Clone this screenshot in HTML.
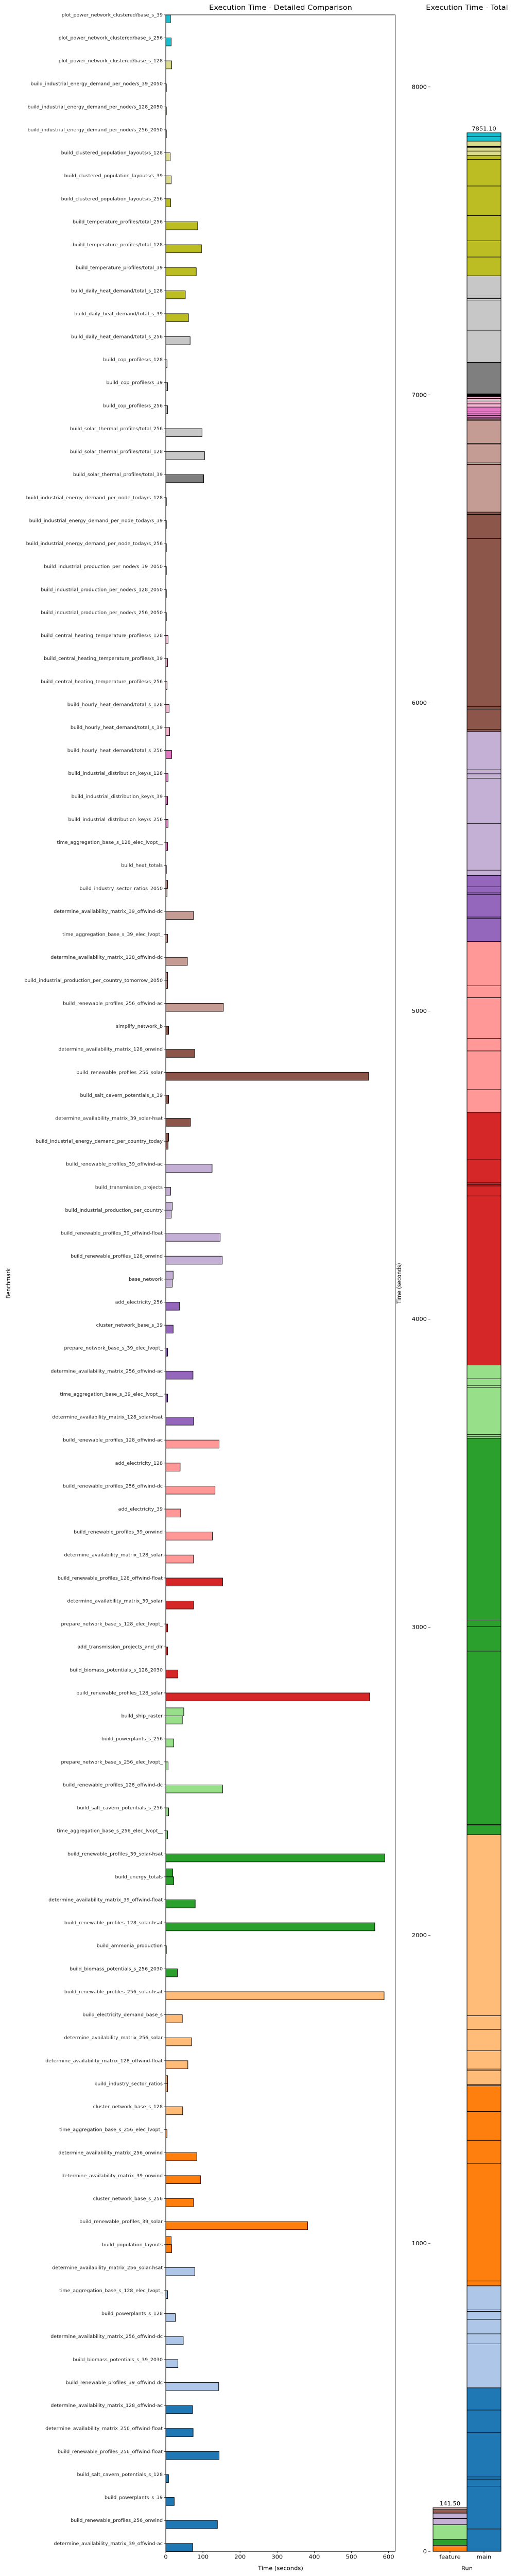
<!DOCTYPE html>
<html><head><meta charset="utf-8"><style>
html,body{margin:0;padding:0;background:#fff;width:100%;height:100%;overflow:hidden;}
svg{display:block;position:fixed;left:0;top:0;width:100vw;height:100vh;font-family:"DejaVu Sans","Liberation Sans",sans-serif;}
</style></head><body>
<svg id="chart" viewBox="0 0 1008 5540" preserveAspectRatio="none" xmlns="http://www.w3.org/2000/svg">
<text x="545" y="21" font-size="14.5" text-anchor="middle">Execution Time - Detailed Comparison</text>
<text x="907" y="21" font-size="14.5" text-anchor="middle">Execution Time - Total</text>
<text x="0" y="0" font-size="11.5" text-anchor="middle" transform="translate(20,2760) rotate(-90)">Benchmark</text>
<text x="545" y="5527" font-size="11.5" text-anchor="middle">Time (seconds)</text>
<text x="0" y="0" font-size="11.5" text-anchor="middle" transform="translate(779,2760) rotate(-90)">Time (seconds)</text>
<text x="907" y="5527" font-size="11.5" text-anchor="middle">Run</text>
<g id="left"></g>
<g id="right"></g>
</svg>
<script>
const labels = ["plot_power_network_clustered/base_s_39","plot_power_network_clustered/base_s_256","plot_power_network_clustered/base_s_128","build_industrial_energy_demand_per_node/s_39_2050","build_industrial_energy_demand_per_node/s_128_2050","build_industrial_energy_demand_per_node/s_256_2050","build_clustered_population_layouts/s_128","build_clustered_population_layouts/s_39","build_clustered_population_layouts/s_256","build_temperature_profiles/total_256","build_temperature_profiles/total_128","build_temperature_profiles/total_39","build_daily_heat_demand/total_s_128","build_daily_heat_demand/total_s_39","build_daily_heat_demand/total_s_256","build_cop_profiles/s_128","build_cop_profiles/s_39","build_cop_profiles/s_256","build_solar_thermal_profiles/total_256","build_solar_thermal_profiles/total_128","build_solar_thermal_profiles/total_39","build_industrial_energy_demand_per_node_today/s_128","build_industrial_energy_demand_per_node_today/s_39","build_industrial_energy_demand_per_node_today/s_256","build_industrial_production_per_node/s_39_2050","build_industrial_production_per_node/s_128_2050","build_industrial_production_per_node/s_256_2050","build_central_heating_temperature_profiles/s_128","build_central_heating_temperature_profiles/s_39","build_central_heating_temperature_profiles/s_256","build_hourly_heat_demand/total_s_128","build_hourly_heat_demand/total_s_39","build_hourly_heat_demand/total_s_256","build_industrial_distribution_key/s_128","build_industrial_distribution_key/s_39","build_industrial_distribution_key/s_256","time_aggregation_base_s_128_elec_lvopt__","build_heat_totals","build_industry_sector_ratios_2050","determine_availability_matrix_39_offwind-dc","time_aggregation_base_s_39_elec_lvopt_","determine_availability_matrix_128_offwind-dc","build_industrial_production_per_country_tomorrow_2050","build_renewable_profiles_256_offwind-ac","simplify_network_b","determine_availability_matrix_128_onwind","build_renewable_profiles_256_solar","build_salt_cavern_potentials_s_39","determine_availability_matrix_39_solar-hsat","build_industrial_energy_demand_per_country_today","build_renewable_profiles_39_offwind-ac","build_transmission_projects","build_industrial_production_per_country","build_renewable_profiles_39_offwind-float","build_renewable_profiles_128_onwind","base_network","add_electricity_256","cluster_network_base_s_39","prepare_network_base_s_39_elec_lvopt_","determine_availability_matrix_256_offwind-ac","time_aggregation_base_s_39_elec_lvopt__","determine_availability_matrix_128_solar-hsat","build_renewable_profiles_128_offwind-ac","add_electricity_128","build_renewable_profiles_256_offwind-dc","add_electricity_39","build_renewable_profiles_39_onwind","determine_availability_matrix_128_solar","build_renewable_profiles_128_offwind-float","determine_availability_matrix_39_solar","prepare_network_base_s_128_elec_lvopt_","add_transmission_projects_and_dlr","build_biomass_potentials_s_128_2030","build_renewable_profiles_128_solar","build_ship_raster","build_powerplants_s_256","prepare_network_base_s_256_elec_lvopt_","build_renewable_profiles_128_offwind-dc","build_salt_cavern_potentials_s_256","time_aggregation_base_s_256_elec_lvopt__","build_renewable_profiles_39_solar-hsat","build_energy_totals","determine_availability_matrix_39_offwind-float","build_renewable_profiles_128_solar-hsat","build_ammonia_production","build_biomass_potentials_s_256_2030","build_renewable_profiles_256_solar-hsat","build_electricity_demand_base_s","determine_availability_matrix_256_solar","determine_availability_matrix_128_offwind-float","build_industry_sector_ratios","cluster_network_base_s_128","time_aggregation_base_s_256_elec_lvopt_","determine_availability_matrix_256_onwind","determine_availability_matrix_39_onwind","cluster_network_base_s_256","build_renewable_profiles_39_solar","build_population_layouts","determine_availability_matrix_256_solar-hsat","time_aggregation_base_s_128_elec_lvopt_","build_powerplants_s_128","determine_availability_matrix_256_offwind-dc","build_biomass_potentials_s_39_2030","build_renewable_profiles_39_offwind-dc","determine_availability_matrix_128_offwind-ac","determine_availability_matrix_256_offwind-float","build_renewable_profiles_256_offwind-float","build_salt_cavern_potentials_s_128","build_powerplants_s_39","build_renewable_profiles_256_onwind","determine_availability_matrix_39_offwind-ac"];
const mainValues = [12.5,14.5,15.8,1.5,1.5,1.5,11.9,14.5,12.9,86,96,82,52.5,61,65.5,3.5,5,5,97.6,104.5,102,1.5,1.5,1.5,1.5,1.5,1.5,6.2,5,3.5,8.9,10.4,15.8,6.2,5,6.2,5,1.5,3.5,74.7,5,58.1,5,155,7.6,78.2,546,7.6,66.3,6.2,124.7,12.9,14.5,146.5,152,17.3,36.6,19.8,5,73.3,5,74.7,143.5,38.6,132.6,40.2,125.7,74.7,153,74.7,5,5,32.7,549,44.5,21.5,6.2,153,7.6,5,590,21.5,79.2,563,1.5,31.2,588,44.5,69.3,59.4,5,45.5,3.5,83.7,93.4,74.7,382,15.8,78.2,5,25.7,47,32.7,142.5,72,73.6,143.6,7.3,22.7,139,72.7];
const featureValues = [0,0,0,0,0,0,0,0,0,0,0,0,0,0,0,0,0,0,0,0,0,0,0,0,0,0,0,0,0,0,0,0,0,0,0,0,0,0,5,0,0,0,5,0,0,0,0,0,0,7.6,0,0,17.3,0,0,19.8,0,0,0,0,0,0,0,0,0,0,0,0,0,0,0,0,0,0,48.5,0,0,0,0,0,0,18.8,0,0,0,0,0,0,0,0,5,0,0,0,0,0,0,14.5,0,0,0,0,0,0,0,0,0,0,0,0];
const xTicks = [0,100,200,300,400,500,600];
const yTicksTotal = [0,1000,2000,3000,4000,5000,6000,7000,8000];
const runs = ["feature","main"];

const tab20 = ["#1f77b4","#aec7e8","#ff7f0e","#ffbb78","#2ca02c","#98df8a","#d62728","#ff9896","#9467bd","#c5b0d5","#8c564b","#c49c94","#e377c2","#f7b6d2","#7f7f7f","#c7c7c7","#bcbd22","#dbdb8d","#17becf","#9edae5"];
const groupEnds = [2,8,14,20,27,32,38,44,50,56,62,68,74,80,86,92,98,104,111];
function colorFor(i){ let g=0; while(i>=groupEnds[g]) g++; return tab20[18-g]; }

const NS="http://www.w3.org/2000/svg";
function mk(tag, attrs, parent){ const e=document.createElementNS(NS,tag); for(const k in attrs) e.setAttribute(k,attrs[k]); parent.appendChild(e); return e; }

const L = {x0:322, x1:767.5, y0:32, y1:5487, pxPerUnit:0.721};
const rowGap = (5470-32)/(labels.length-1);
const barH = 17.3;
const xScale = v => L.x0 + v*L.pxPerUnit;
const yRow = i => L.y0 + i*rowGap;
const left = document.getElementById('left');

labels.forEach((lab,i)=>{
  const y=yRow(i);
  const c=colorFor(i);
  if(featureValues[i]>0){
    const fb=mk('rect',{x:xScale(0),y:y-barH,width:xScale(featureValues[i])-xScale(0),height:barH,fill:c,stroke:'#000','stroke-width':1},left);
    
    
  }
  const mb=mk('rect',{x:xScale(0),y:y,width:Math.max(0.8,xScale(mainValues[i])-xScale(0)),height:barH,fill:c,stroke:'#000','stroke-width':1},left);
  
  
  const tk=mk('line',{x1:L.x0-3.5,x2:L.x0,y1:y,y2:y,stroke:'#000','stroke-width':0.8},left);
  
  
  const t=mk('text',{x:L.x0-6,y:y+3.3,'font-size':9.5,'text-anchor':'end',fill:'#222'},left);
  t.textContent=lab;
  
  
});
const frame=mk('rect',{x:L.x0,y:L.y0,width:L.x1-L.x0,height:L.y1-L.y0,fill:'none',stroke:'#000','stroke-width':1},left);


xTicks.forEach(v=>{
  const x=xScale(v);
  const tl=mk('line',{x1:x,x2:x,y1:L.y1,y2:L.y1+3.5,stroke:'#000','stroke-width':0.8},left);
  
  
  const tt=mk('text',{x:x,y:L.y1+16,'font-size':11.5,'text-anchor':'middle'},left);
  tt.textContent=v;
  
  
});

const R = {y0:5487, pxPerUnit:(5487-187)/8000, axisX:836, barW:66, feat:841};
const yT = v => R.y0 - v*R.pxPerUnit;
const right = document.getElementById('right');
yTicksTotal.forEach(v=>{
  const y=yT(v);
  const tl=mk('line',{x1:R.axisX-4,x2:R.axisX,y1:y,y2:y,stroke:'#000','stroke-width':0.8},right);
  
  
  const tt=mk('text',{x:R.axisX-7,y:y+4,'font-size':11.5,'text-anchor':'end'},right);
  tt.textContent=v;
  
  
});
const series=[featureValues, mainValues];
runs.forEach((run,r)=>{
  const x=R.feat + r*R.barW;
  let acc=0;
  for(let i=labels.length-1;i>=0;i--){
    const v=series[r][i];
    if(!(v>0)) continue;
    const seg=mk('rect',{x:x,y:yT(acc+v),width:R.barW,height:yT(acc)-yT(acc+v),fill:colorFor(i),stroke:'#000','stroke-width':1},right);
    
    
    acc+=v;
  }
  const lbl=mk('text',{x:x+R.barW/2,y:yT(acc)-5,'font-size':11.5,'text-anchor':'middle'},right);
  lbl.textContent=acc.toFixed(2);
  
  
  const tk=mk('line',{x1:x+R.barW/2,x2:x+R.barW/2,y1:R.y0,y2:R.y0+3.5,stroke:'#000','stroke-width':0.8},right);
  
  
  const tt=mk('text',{x:x+R.barW/2,y:R.y0+16,'font-size':11.5,'text-anchor':'middle'},right);
  tt.textContent=run;
  
  
});
</script>
</body></html>
